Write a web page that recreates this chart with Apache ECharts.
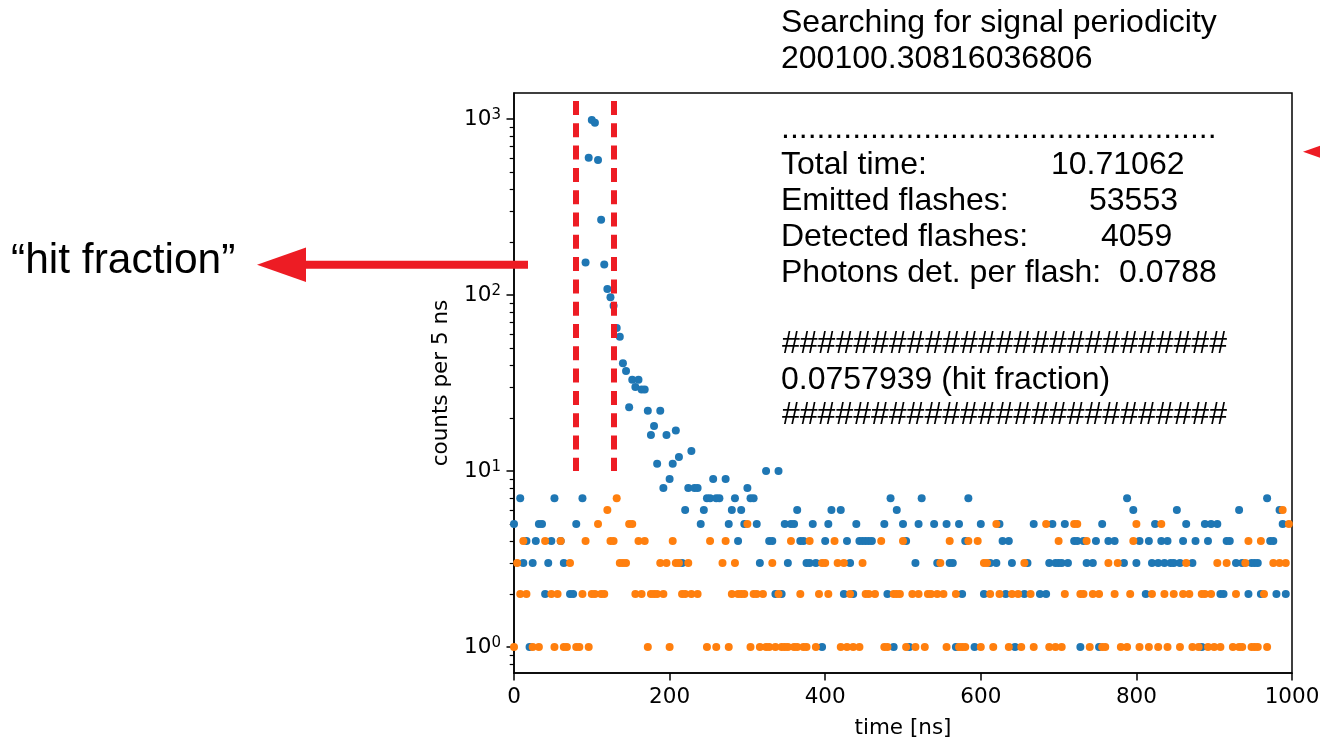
<!DOCTYPE html>
<html>
<head>
<meta charset="utf-8">
<script src="https://cdn.jsdelivr.net/npm/echarts@6/dist/echarts.min.js"></script>
<style>
  html, body { margin: 0; padding: 0; background: #fff; }
  #chart { width: 1320px; height: 741px; }
</style>
</head>
<body>
<div id="chart"></div>
<script>
// Photon arrival-time histogram, one entry per time bin (null = empty bin).
const BIN_NS = 4;

// counts with the signal periodicity applied
const signalCounts = [
  5, null, 7, 3, 4, 1, 3, 4, 5, 5,
  2, 3, 4, 7, null, 4, 3, null, 2, 2,
  5, null, 7, 153, 603, 986, 953, 585, 268, 149,
  108, 97, 87, 65, 58, 41, 37, 23, 33, 30,
  33, 29, 29, 22, 16, 18, 11, 22, 8, 16,
  9, 11, 17, 12, 3, 6, 8, 13, 8, 8,
  5, 6, 7, 7, 9, 7, 7, null, 9, 5,
  6, 7, 4, 6, 5, 8, 7, 7, 5, 3,
  null, 10, 4, 4, 2, 10, 2, 5, 3, 5,
  5, 6, 4, 4, 3, 3, 5, 3, null, 1,
  4, 5, 6, null, null, 6, 2, 4, 3, 2,
  5, 4, 4, 4, 4, 4, null, null, null, 5,
  2, 7, 1, 6, null, 5, 4, 1, null, 3,
  5, 7, null, null, null, 5, 3, null, null, 5,
  3, 3, 1, 5, 2, 4, 7, null, 1, null,
  5, 2, null, 3, null, 3, 5, 4, 2, 4,
  3, 1, null, null, 2, 3, null, 5, null, 2,
  null, 2, 3, 5, 3, 3, 3, 5, 3, null,
  4, 4, 1, 4, 3, null, 3, 4, 1, 5,
  null, 4, null, 4, null, null, 3, 7, null, 6,
  3, 4, null, 2, 4, 3, 5, 3, 4, 3,
  4, 3, 3, 6, 3, 4, 5, null, 3, 4,
  null, 1, 5, 4, 5, null, 5, 2, 2, 4,
  4, null, 3, 6, 3, null, 2, 3, 3, 3,
  2, null, 7, 4, 4, 2, 6, 5, 2, null
];

// counts folded with a shifted period (background reference)
const shiftedCounts = [
  1, 3, 2, 4, 2, null, 1, null, 1, null,
  4, null, 2, 1, 2, 4, 1, 1, 3, null,
  1, 1, 2, 4, 1, 2, 2, 5, 2, 2,
  6, 4, 4, 7, 3, 3, 3, 5, 5, 2,
  4, 2, 4, 1, 2, 2, 2, 3, 2, 3,
  1, 4, 3, 3, 2, 2, 3, 2, null, 2,
  null, null, 1, 4, null, 1, null, 3, 4, 1,
  2, 3, 2, 2, 2, 5, 1, 2, 2, 1,
  2, 1, 1, 3, 1, 2, 1, 1, 1, 4,
  1, 1, 2, 1, 1, 4, null, 1, 2, 3,
  3, 2, null, 4, 3, 1, 3, 1, 2, 1,
  null, 1, 3, 2, 2, null, 2, null, 4, 1,
  1, null, 2, 2, 2, 4, 1, null, 2, 1,
  2, null, 1, 2, 2, null, 2, 3, 2, 1,
  4, null, 2, 1, 1, 1, 4, null, null, 4,
  1, 3, 3, 2, 1, 5, 2, null, null, 1,
  2, null, 2, 1, 3, null, 2, 1, null, null,
  null, 5, 1, null, 1, 4, 1, 2, null, null,
  5, 5, 2, 2, 4, 1, 2, null, 2, 1,
  1, 3, null, 2, 3, 1, null, 1, 2, 4,
  5, 1, null, null, 1, 2, null, 1, 5, 2,
  1, null, 2, null, 1, 2, 3, 2, 1, null,
  1, 2, 2, 1, 2, 1, 3, 1, null, 3,
  null, 1, 2, 1, 1, 3, 4, 1, 1, 1,
  4, 2, 1, null, 3, null, 3, 6, 3, 5
];

// integration window edges [ns]
const windowEdges = [79, 128.5];

// axis ticks
const xTicks = [0, 200, 400, 600, 800, 1000];
const yMajorTicks = [1, 10, 100, 1000];
const yMinorTicks = [0.8, 0.9, 2, 3, 4, 5, 6, 7, 8, 9, 20, 30, 40, 50, 60, 70, 80, 90,
                     200, 300, 400, 500, 600, 700, 800, 900];

// annotation texts
const headerLines = ['Searching for signal periodicity', '200100.30816036806'];
const statNames = ['Total time:', 'Emitted flashes:', 'Detected flashes:'];
const statValues = ['10.71062', '53553', '4059'];
const photonsLine = 'Photons det. per flash:  0.0788';
const hitFractionLine = '0.0757939 (hit fraction)';
const calloutText = '\u201chit fraction\u201d';

// ---------------------------------------------------------------------------
const SANS = '"Liberation Sans", Arial, sans-serif';
const AXIS_FONT = '"DejaVu Sans", sans-serif';
const AXIS_SIZE = 21.5;
const RED = '#ed1c24';
const Y_MIN = 0.7116, Y_MAX = 1405;

function toPoints(counts) {
  const pts = [];
  counts.forEach((c, i) => { if (c) pts.push([i * BIN_NS, c]); });
  return pts;
}

// text placed by its baseline
function textAt(str, x, baseline, size) {
  return {
    type: 'text', x: x, y: baseline - 0.345 * size, z: 100,
    style: { text: str, font: size + 'px ' + SANS, fill: '#000',
             align: 'left', verticalAlign: 'middle' }
  };
}

const graphics = [];
const BS = 32;
graphics.push(textAt(headerLines[0], 781, 34, BS));
graphics.push(textAt(headerLines[1], 781, 70, BS));
graphics.push(textAt('.'.repeat(49), 781, 140, BS));
const statBase = [176, 212.5, 248.5];
const statValX = [1051, 1089, 1101];
statNames.forEach((n, i) => {
  graphics.push(textAt(n, 781, statBase[i], BS));
  graphics.push(textAt(statValues[i], statValX[i], statBase[i], BS));
});
graphics.push(textAt(photonsLine, 781, 284.5, BS));
graphics.push(textAt('#'.repeat(25), 782, 355, BS));
graphics.push(textAt(hitFractionLine, 781, 391, BS));
graphics.push(textAt('#'.repeat(25), 782, 426, BS));
graphics.push(textAt(calloutText, 11, 276, 42.5));

// left arrow pointing at the callout
graphics.push({ type: 'rect', z: 100, shape: { x: 304, y: 260.7, width: 224, height: 8 },
                style: { fill: RED } });
graphics.push({ type: 'polygon', z: 100,
                shape: { points: [[257, 264.7], [306, 247.4], [306, 282]] },
                style: { fill: RED } });
// arrow entering from the right edge
graphics.push({ type: 'polygon', z: 100,
                shape: { points: [[1303, 151.7], [1352, 134.4], [1352, 169]] },
                style: { fill: RED } });

const chart = echarts.init(document.getElementById('chart'), null, { renderer: 'canvas' });

const yLabelRich = {
  b: { fontFamily: AXIS_FONT, fontSize: AXIS_SIZE, lineHeight: 22, color: '#000', padding: [7, 0, 7, 0] },
  s: { fontFamily: AXIS_FONT, fontSize: 15, lineHeight: 15, color: '#000', verticalAlign: 'top' }
};

chart.setOption({
  animation: false,
  backgroundColor: '#fff',
  grid: {
    left: 514, top: 93, width: 778, height: 580,
    show: true, borderColor: '#000', borderWidth: 1.5, backgroundColor: 'transparent',
    containLabel: false, outerBoundsMode: 'none'
  },
  xAxis: {
    type: 'value', min: 0, max: 1000, interval: 200,
    name: 'time [ns]', nameLocation: 'middle', nameGap: 44,
    nameTextStyle: { fontFamily: AXIS_FONT, fontSize: AXIS_SIZE, color: '#000' },
    axisLine: { show: true, onZero: false, lineStyle: { color: '#000', width: 1.5 } },
    axisTick: { show: true, length: 7.5, lineStyle: { color: '#000', width: 1.5 } },
    axisLabel: { fontFamily: AXIS_FONT, fontSize: AXIS_SIZE, color: '#000', margin: 13,
                 customValues: xTicks, formatter: v => String(v) },
    splitLine: { show: false }
  },
  yAxis: [
    {
      type: 'log', logBase: 10, min: Y_MIN, max: Y_MAX,
      name: 'counts per 5 ns', nameLocation: 'middle', nameGap: 62, nameRotate: 90,
      nameTextStyle: { fontFamily: AXIS_FONT, fontSize: AXIS_SIZE, color: '#000' },
      axisLine: { show: true, lineStyle: { color: '#000', width: 1.5 } },
      axisTick: { show: true, length: 7.5, lineStyle: { color: '#000', width: 1.5 },
                  customValues: yMajorTicks },
      axisLabel: {
        margin: 13, customValues: yMajorTicks,
        formatter: v => '{b|10}{s|' + Math.round(Math.log10(v)) + '}',
        rich: yLabelRich
      },
      splitLine: { show: false }
    },
    {
      type: 'log', logBase: 10, min: Y_MIN, max: Y_MAX, position: 'left',
      axisLine: { show: false },
      axisTick: { show: true, length: 4.3, lineStyle: { color: '#000', width: 1.2 },
                  customValues: yMinorTicks },
      axisLabel: { show: false },
      splitLine: { show: false }
    }
  ],
  graphic: graphics,
  series: [
    {
      name: 'signal', type: 'scatter', symbol: 'circle', symbolSize: 8, z: 2,
      itemStyle: { color: '#1f77b4', opacity: 1 },
      data: toPoints(signalCounts), clip: true
    },
    {
      name: 'shifted', type: 'scatter', symbol: 'circle', symbolSize: 8, z: 3,
      itemStyle: { color: '#ff7f0e', opacity: 1 },
      data: toPoints(shiftedCounts), clip: true
    },
    {
      name: 'window', type: 'line', data: [], z: 10, silent: true,
      markLine: {
        silent: true, symbol: ['none', 'none'], animation: false,
        label: { show: false },
        lineStyle: { color: RED, width: 6, type: [14, 8.3], opacity: 1 },
        emphasis: { disabled: true },
        data: windowEdges.map(t => [{ coord: [t, 1265] }, { coord: [t, 10] }])
      }
    }
  ]
});
</script>
</body>
</html>
